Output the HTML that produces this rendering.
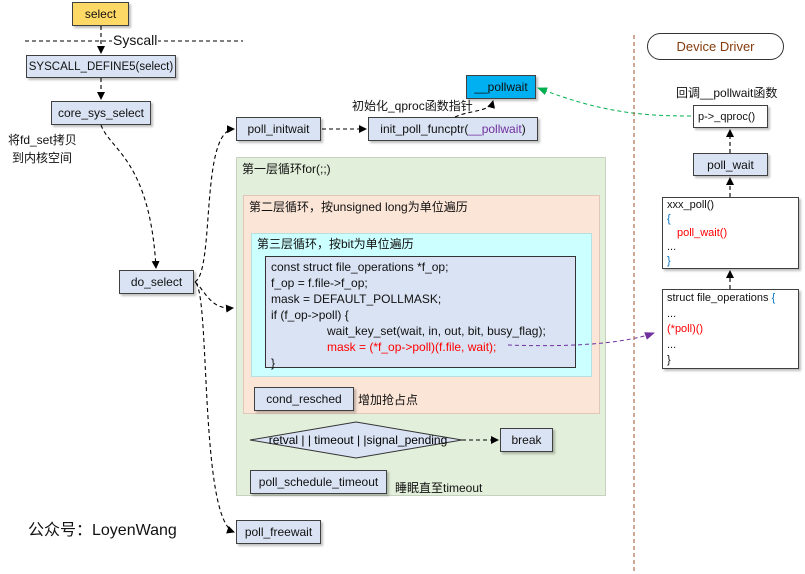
<!DOCTYPE html>
<html><head><meta charset="utf-8"><style>
body{margin:0;width:805px;height:574px;background:#fff;position:relative;overflow:hidden;font-family:"Liberation Sans","Noto Sans CJK SC",sans-serif;font-size:12px;color:#111}
.a{position:absolute;box-sizing:border-box}
.b{position:absolute;box-sizing:border-box;background:#dae3f3;border:1px solid #404040;box-shadow:2px 2px 2px rgba(0,0,0,.25);display:flex;align-items:center;justify-content:center;white-space:nowrap}
.t{position:absolute;white-space:nowrap}
.w{background:#fff;border:1px solid #404040;box-shadow:2px 2px 2px rgba(0,0,0,.25);position:absolute;box-sizing:border-box;font-size:11px;line-height:15.5px;padding:1px 4px}
</style></head><body>
<div class="a" style="left:236px;top:157px;width:370px;height:339px;background:#e2efda;border:1px solid #c8d0c0"></div>
<div class="t" style="left:242px;top:160px">第一层循环for(;;)</div>
<div class="a" style="left:243px;top:195px;width:357px;height:219px;background:#fbe5d6;border:1px solid #e0c8b8"></div>
<div class="t" style="left:249px;top:198px">第二层循环，按unsigned long为单位遍历</div>
<div class="a" style="left:251px;top:233px;width:341px;height:144px;background:#ccffff;border:1px solid #b8e0e0"></div>
<div class="t" style="left:257px;top:235px">第三层循环，按bit为单位遍历</div>
<div class="a" style="left:265px;top:256px;width:311px;height:112px;background:#dae3f3;border:1px solid #333;padding:2px 0 0 5px;line-height:16px;font-size:12px">
const struct file_operations *f_op;<br>f_op = f.file-&gt;f_op;<br>mask = DEFAULT_POLLMASK;<br>if (f_op-&gt;poll) {<br>
<span style="padding-left:56px">wait_key_set(wait, in, out, bit, busy_flag);</span><br>
<span style="padding-left:56px;color:#f00">mask = (*f_op-&gt;poll)(f.file, wait);</span><br>}</div>

<div class="b" style="left:72px;top:2px;width:57px;height:24px;background:#ffd966">select</div>
<div class="b" style="left:26px;top:55px;width:150px;height:23px;font-size:11.5px">SYSCALL_DEFINE5(select)</div>
<div class="b" style="left:51px;top:101px;width:100px;height:24px">core_sys_select</div>
<div class="t" style="left:8px;top:131px">将fd_set拷贝</div>
<div class="t" style="left:12px;top:149px">到内核空间</div>
<div class="b" style="left:119px;top:270px;width:75px;height:24px">do_select</div>
<div class="b" style="left:236px;top:117px;width:85px;height:24px">poll_initwait</div>
<div class="b" style="left:368px;top:117px;width:170px;height:24px">init_poll_funcptr(<span style="color:#7030a0">__pollwait</span>)</div>
<div class="b" style="left:466px;top:75px;width:70px;height:24px;background:#00b0f0">__pollwait</div>
<div class="t" style="left:352px;top:97px">初始化_qproc函数指针</div>
<div class="b" style="left:254px;top:387px;width:100px;height:24px">cond_resched</div>
<div class="t" style="left:358px;top:391px">增加抢占点</div>
<div class="b" style="left:500px;top:428px;width:53px;height:24px">break</div>
<div class="b" style="left:250px;top:470px;width:137px;height:24px">poll_schedule_timeout</div>
<div class="t" style="left:395px;top:479px">睡眠直至timeout</div>
<div class="b" style="left:236px;top:520px;width:85px;height:24px">poll_freewait</div>
<div class="t" style="left:28px;top:516px;font-size:16px">公众号：LoyenWang</div>

<div class="a" style="left:647px;top:33px;width:137px;height:27px;border:1px solid #333;border-radius:14px;color:#843c0c;font-size:13px;text-align:center;line-height:25px">Device Driver</div>
<div class="t" style="left:676px;top:84px">回调__pollwait函数</div>
<div class="w" style="left:693px;top:105px;width:75px;height:23px;line-height:20px">p-&gt;_qproc()</div>
<div class="b" style="left:693px;top:153px;width:75px;height:23px">poll_wait</div>
<div class="w" style="left:662px;top:197px;width:137px;height:72px;line-height:14px;padding-top:0">xxx_poll()<br><span style="color:#0070c0">{</span><br><span style="color:#f00;padding-left:10px">poll_wait()</span><br>...<br><span style="color:#0070c0">}</span></div>
<div class="w" style="left:662px;top:289px;width:137px;height:80px;line-height:15.5px;padding-top:1px">struct file_operations <span style="color:#0070c0">{</span><br>...<br><span style="color:#f00">(*poll)()</span><br>...<br>}</div>

<svg class="a" style="left:0;top:0" width="805" height="574">
<defs><marker id="k" markerWidth="8" markerHeight="8" refX="7" refY="4" orient="auto" markerUnits="userSpaceOnUse"><path d="M0,0L8,4L0,8z" fill="#000"/></marker>
<marker id="g" markerWidth="10" markerHeight="8" refX="9" refY="4" orient="auto" markerUnits="userSpaceOnUse"><path d="M0,0L10,4L0,8z" fill="#00b050"/></marker>
<marker id="p" markerWidth="10" markerHeight="8" refX="9" refY="4" orient="auto" markerUnits="userSpaceOnUse"><path d="M0,0L10,4L0,8z" fill="#7030a0"/></marker></defs>
<g fill="none" stroke="#000" stroke-dasharray="4,3" stroke-width="1.1">
<path d="M25,41H112M157,41H243"/>
<path d="M101,26V53" marker-end="url(#k)"/>
<path d="M101,78V99" marker-end="url(#k)"/>
<path d="M101,125C110,150 150,160 156,268" marker-end="url(#k)"/>
<path d="M195,282C215,270 200,130 234,129" marker-end="url(#k)"/>
<path d="M195,282C205,290 210,310 233,308" marker-end="url(#k)"/>
<path d="M196,283C210,300 200,520 234,532" marker-end="url(#k)"/>
<path d="M322,129H366" marker-end="url(#k)"/>
<path d="M455,117C470,110 490,112 493,101" marker-end="url(#k)"/>
<path d="M462,440H498" marker-end="url(#k)"/>
<path d="M730,153V130" marker-end="url(#k)"/>
<path d="M730,197V178" marker-end="url(#k)"/>
<path d="M730,289V271" marker-end="url(#k)"/>
</g>
<path d="M250,440L356,422L462,440L356,458Z" fill="#dae3f3" stroke="#333"/>
<text x="358" y="444" font-size="12" text-anchor="middle" font-family="Liberation Sans,sans-serif">retval | | timeout | |signal_pending</text>
<path d="M691,116C640,116 600,112 538,88" fill="none" stroke="#00b050" stroke-dasharray="4,3" marker-end="url(#g)"/>
<path d="M508,345C560,347 620,345 654,333" fill="none" stroke="#7030a0" stroke-dasharray="4,3" marker-end="url(#p)"/>
<path d="M634,35V574" stroke="#a0522d" stroke-dasharray="4,3"/>
</svg>
<div class="t" style="left:112px;top:32px;font-size:14px;background:#fff;padding:0 1px">Syscall</div>
</body></html>
